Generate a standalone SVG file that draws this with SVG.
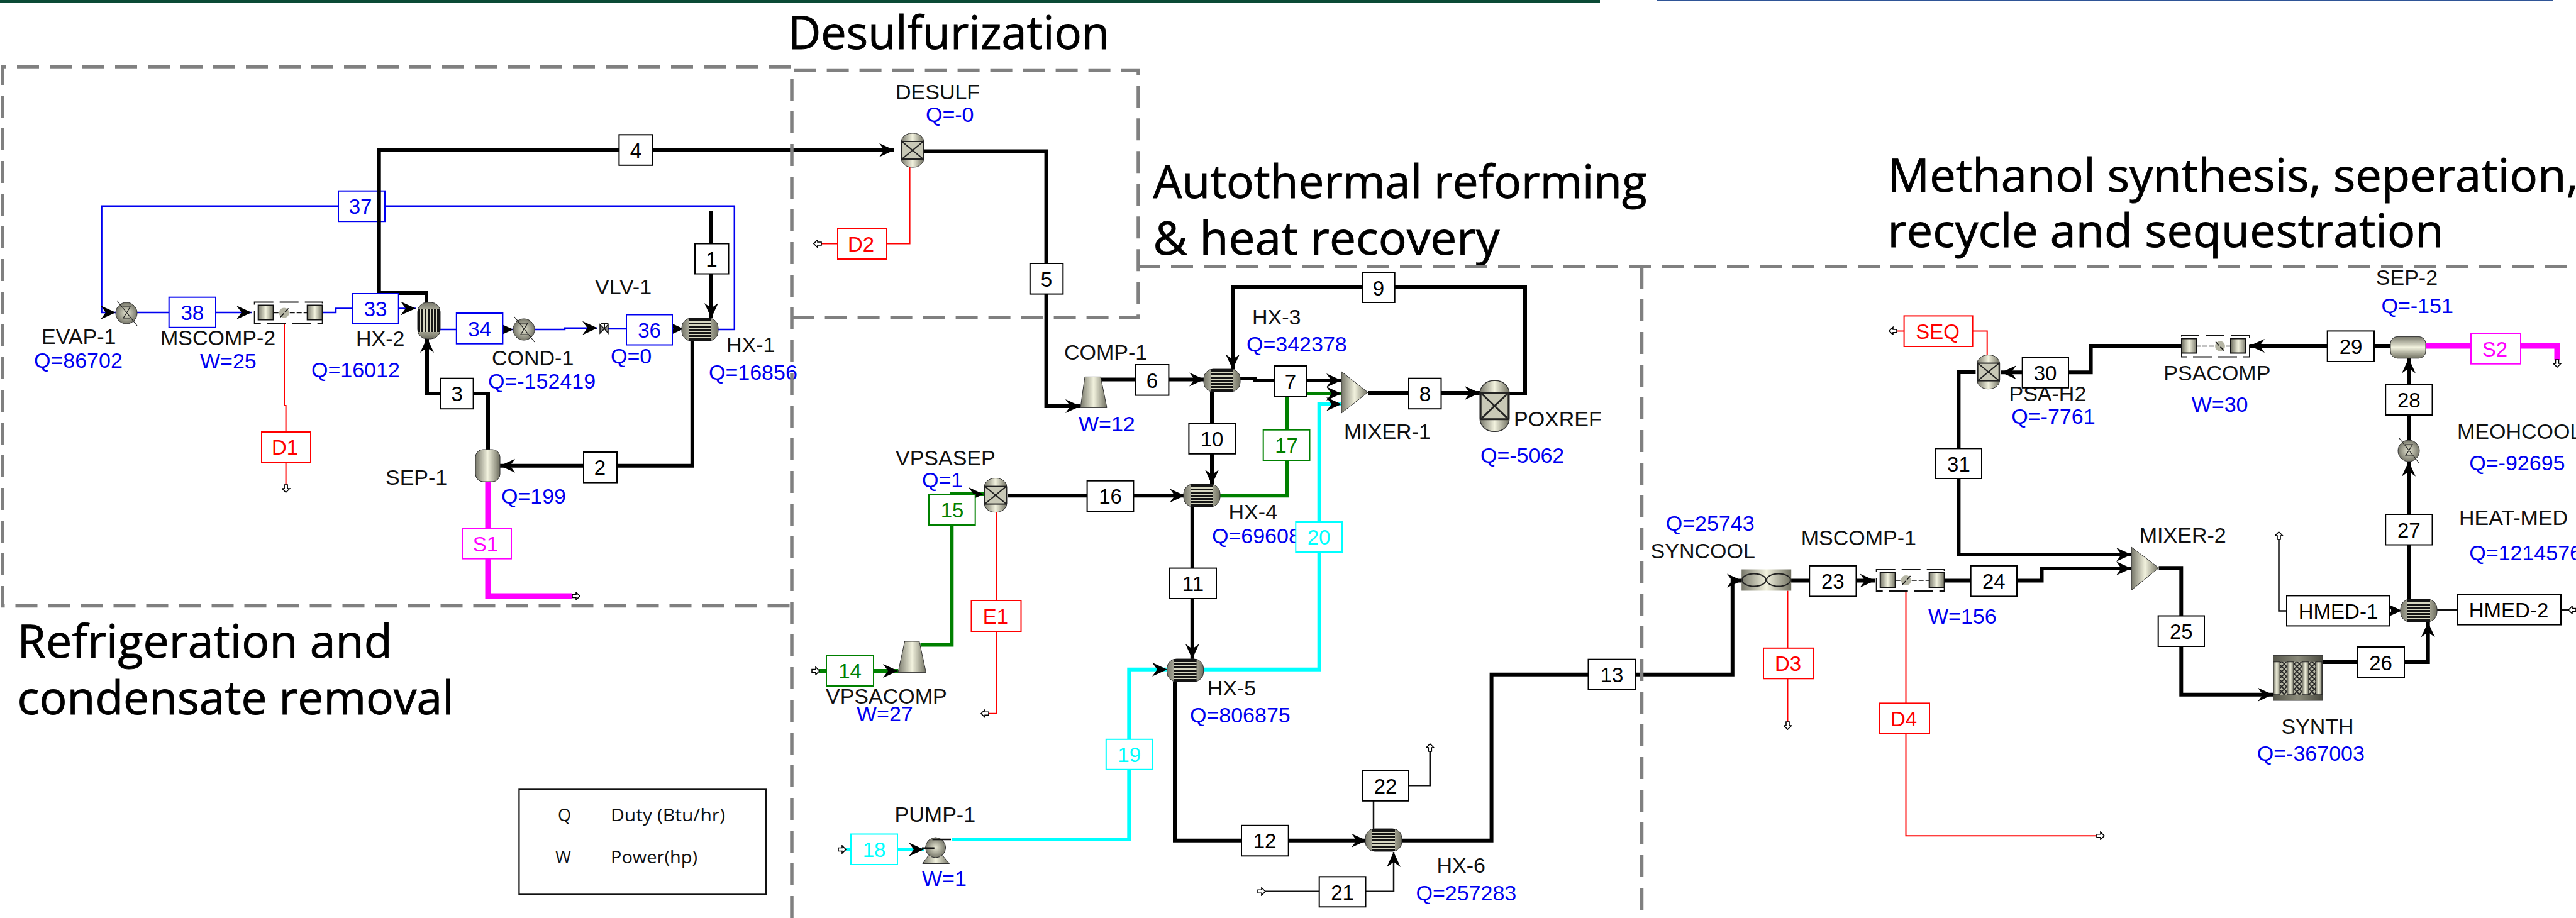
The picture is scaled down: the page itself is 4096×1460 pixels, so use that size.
<svg xmlns="http://www.w3.org/2000/svg" width="4096" height="1460" viewBox="0 0 4096 1460">
<style>
text{font-family:"Liberation Sans",Arial,sans-serif}
.lb{font-size:34px;fill:#111}
.q{font-size:34px;fill:#0000f0}
.title{font-family:"Open Sans","Noto Sans",sans-serif;font-size:74px;fill:#000;stroke:#000;stroke-width:.9}
.leg{font-family:"Open Sans","Noto Sans",sans-serif;font-size:27px;fill:#111}
.st{fill:none;stroke-linejoin:miter}
.k{stroke:#000;stroke-width:6}
.kt{stroke:#111;stroke-width:2.5}
.b{stroke:#0000f0;stroke-width:2.5}
.r{stroke:#ff0000;stroke-width:2}
.g{stroke:#008000;stroke-width:6}
.c{stroke:#00ffff;stroke-width:6}
.m{stroke:#ff00ff;stroke-width:9}
.tag rect{fill:#fff;stroke-width:2}
.tag text{text-anchor:middle;font-size:33px}
.tk rect{stroke:#000}.tk text{fill:#000}
.tb rect{stroke:#0000f0}.tb text{fill:#0000f0}
.tr rect{stroke:#ff0000}.tr text{fill:#ff0000}
.tg rect{stroke:#008000}.tg text{fill:#008000}
.tc rect{stroke:#00ffff}.tc text{fill:#00ffff}
.tm rect{stroke:#ff00ff}.tm text{fill:#ff00ff}
.reg{fill:none;stroke:#808080;stroke-width:5.5;stroke-dasharray:35 17}
.ic{stroke:#333;stroke-width:1}
</style>
<defs>
<linearGradient id="mV" x1="0" y1="0" x2="1" y2="0"><stop offset="0" stop-color="#77776a"/><stop offset=".5" stop-color="#f2f2de"/><stop offset="1" stop-color="#6f6f60"/></linearGradient>
<linearGradient id="mH" x1="0" y1="0" x2="0" y2="1"><stop offset="0" stop-color="#77776a"/><stop offset=".5" stop-color="#f2f2de"/><stop offset="1" stop-color="#6f6f60"/></linearGradient>
<linearGradient id="mD" x1="0" y1="0" x2="1" y2="0"><stop offset="0" stop-color="#55554a"/><stop offset=".5" stop-color="#8a8a7a"/><stop offset="1" stop-color="#4a4a40"/></linearGradient>
<radialGradient id="mR"><stop offset="0" stop-color="#e6e6d2"/><stop offset="1" stop-color="#77776a"/></radialGradient>
<pattern id="hatch" width="8" height="8" patternUnits="userSpaceOnUse"><rect width="8" height="8" fill="#b5b5a4"/><path d="M0 0L8 8M8 0L0 8" stroke="#222" stroke-width="1.6"/></pattern>
<marker id="ah" viewBox="0 0 24 24" refX="24" refY="12" markerWidth="24" markerHeight="24" markerUnits="userSpaceOnUse" orient="auto"><path d="M0 1L24 12L0 23L8 12Z" fill="#000"/></marker>
<marker id="tip" viewBox="0 0 14 14" refX="1" refY="7" markerWidth="14" markerHeight="14" markerUnits="userSpaceOnUse" orient="auto"><path d="M1 4.5H7V1L13 7L7 13V9.5H1Z" fill="#fff" stroke="#000" stroke-width="1.6"/></marker>
<marker id="tipS" viewBox="0 0 14 14" refX="13" refY="7" markerWidth="14" markerHeight="14" markerUnits="userSpaceOnUse" orient="auto"><path d="M1 4.5H7V1L13 7L7 13V9.5H1Z" fill="#fff" stroke="#000" stroke-width="1.6"/></marker>
<g id="hx"><rect x="-29" y="-18" width="58" height="36" rx="15" fill="url(#mV)" class="ic"/><rect x="-18" y="-18" width="36" height="36" fill="#151515"/><path d="M-18 -12H18M-18 -7H18M-18 -2H18M-18 3H18M-18 8H18M-18 13H18" stroke="#d8d8c2" stroke-width="2"/></g>
<g id="rx"><rect x="-18" y="-27" width="36" height="54" rx="17" ry="14" fill="url(#mV)" class="ic"/><rect x="-17" y="-14" width="34" height="28" fill="#c8c8b6" stroke="#222" stroke-width="2"/><path d="M-17 -14L17 14M17 -14L-17 14" stroke="#222" stroke-width="2"/></g>
<g id="heater"><circle r="17" fill="url(#mR)" class="ic"/><path d="M-6 -10H6L-5 8H6M-15 -20L17 20" fill="none" stroke="#222" stroke-width="1.2"/></g>
<g id="mscomp"><rect x="-54" y="-17" width="108" height="34" fill="none" stroke="#111" stroke-width="2" stroke-dasharray="30 10"/><rect x="-48" y="-12" width="24" height="23" fill="url(#mV)" stroke="#111" stroke-width="2"/><rect x="30" y="-12" width="24" height="23" fill="url(#mV)" stroke="#111" stroke-width="2"/><circle cx="-7" cy="0" r="8" fill="#b5b5a4"/><path d="M-13 7L0 -7M-24 0H-15M2 0H30" stroke="#111" stroke-width="1.6" stroke-dasharray="8 3"/></g>
</defs>
<rect width="4096" height="1460" fill="#fff"/>
<rect x="0" y="0" width="2544" height="5" fill="#0b4a35"/>
<rect x="2634" y="0" width="1425" height="1.5" fill="#2f5597"/>
<g id="tag-37" class="tag tb"><rect x="538" y="303.7" width="74" height="48.5"/><text x="573" y="340">37</text></g>
<g id="connectors">
<path id="s1" class="st k" d="M1131 335V506" marker-end="url(#ah)"/>
<path id="s2" class="st k" d="M1100.8 541.5V740.7H795" marker-end="url(#ah)"/>
<path id="s3" class="st k" d="M776 716V626H679V537" marker-end="url(#ah)"/>
<path id="s4" class="st k" d="M678 482.6V466H602.7V238.7H1422" marker-end="url(#ah)"/>
<path id="s5" class="st k" d="M1469 240.6H1663.6V646H1718" marker-end="url(#ah)"/>
<path id="s6" class="st k" d="M1750 603.6H1915" marker-end="url(#ah)"/>
<path id="s7" class="st k" d="M1971 602H1995V605H2133" marker-end="url(#ah)"/>
<path id="s8" class="st k" d="M2175 625H2353" marker-end="url(#ah)"/>
<path id="s9" class="st k" d="M2400 626H2425V456.7H1960V587.6" marker-end="url(#ah)"/>
<path id="s10" class="st k" d="M1927 622.5V771" marker-end="url(#ah)"/>
<path id="s11" class="st k" d="M1895.8 805.7V1048" marker-end="url(#ah)"/>
<path id="s12" class="st k" d="M1868 1083.5V1336.8H2173" marker-end="url(#ah)"/>
<path id="s13" class="st k" d="M2229 1336.8H2371.6V1072.7H2754.8V923.4H2770" marker-end="url(#ah)"/>
<path id="s14" class="st g" d="M1303 1067H1428" marker-start="url(#tipS)" marker-end="url(#ah)"/>
<path id="s15" class="st g" d="M1463.5 1025.6H1513.3V786H1564" marker-end="url(#ah)"/>
<path id="s16" class="st k" d="M1602 788.3H1884" marker-end="url(#ah)"/>
<path id="s17" class="st g" d="M1939 788.3H2046V626H2133" marker-end="url(#ah)"/>
<path id="s18" class="st c" d="M1345 1351H1469" marker-start="url(#tipS)" marker-end="url(#ah)"/>
<path id="s19" class="st c" d="M1513.3 1335H1795.3V1064.7H1856" marker-end="url(#ah)"/>
<path id="s20" class="st c" d="M1912.6 1064.7H2097.7V642.7H2133" marker-end="url(#ah)"/>
<path id="s21" class="st kt" d="M2012 1417.8H2216V1355" marker-start="url(#tipS)" marker-end="url(#ah)"/>
<path id="s22" class="st kt" d="M2184 1318.5V1249.3H2273.8V1195" marker-end="url(#tip)"/>
<path id="s23" class="st k" d="M2847 923.4H2981.4" marker-end="url(#ah)"/>
<path id="s24" class="st k" d="M3092 923.4H3246.5V904H3389" marker-end="url(#ah)"/>
<path id="s25" class="st k" d="M3432.6 903.2H3468.3V1104.7H3614" marker-end="url(#ah)"/>
<path id="s26" class="st k" d="M3693 1053H3860.7V989.4" marker-end="url(#ah)"/>
<path id="s27" class="st k" d="M3830 952.6V733.7" marker-end="url(#ah)"/>
<path id="s28" class="st k" d="M3830 701.6V569.8" marker-end="url(#ah)"/>
<path id="s29" class="st k" d="M3801 550H3577" marker-end="url(#ah)"/>
<path id="s30" class="st k" d="M3468 550H3324.6V592.3H3182" marker-end="url(#ah)"/>
<path id="s31" class="st k" d="M3141.4 592H3114.4V882H3389" marker-end="url(#ah)"/>
<path id="s33" class="st b" d="M513 497H534V490.6H661" marker-end="url(#ah)"/>
<path id="s34" class="st b" d="M700 524H816" marker-end="url(#ah)"/>
<path id="s35" class="st b" d="M850 524H898V521.7H950" marker-end="url(#ah)"/>
<path id="s36" class="st b" d="M967 523H1087" marker-end="url(#ah)"/>
<path id="s37a" class="st b" d="M538 327.7H161.6V497H184" marker-end="url(#ah)"/>
<path id="s37b" class="st b" d="M612 327.7H1167.8V524H1142"/>
<path id="s38" class="st b" d="M218 497H400" marker-end="url(#ah)"/>
<path id="sS1" class="st m" d="M776 766V948H910" marker-end="url(#tip)"/>
<path id="sS2" class="st m" d="M3857 550H4066V572" marker-end="url(#tip)"/>
<path id="sD1" class="st r" d="M452 515.6V645H454.6V771" marker-end="url(#tip)"/>
<path id="sD2" class="st r" d="M1446.6 266V387.5H1306" marker-end="url(#tip)"/>
<path id="sE1" class="st r" d="M1584.5 814.7V1134.8H1572" marker-end="url(#tip)"/>
<path id="sD3" class="st r" d="M2842.5 939.4V1148" marker-end="url(#tip)"/>
<path id="sD4" class="st r" d="M3030.5 940.4V1329.3H3334" marker-end="url(#tip)"/>
<path id="sSEQ" class="st r" d="M3159.7 565V526.4H3016" marker-end="url(#tip)"/>
<path id="sHM1" class="st kt" d="M3636 971.5H3623.5V858" marker-end="url(#tip)"/>
<path id="sHM1b" class="st kt" d="M3802 971H3819" marker-end="url(#ah)"/>
<path id="sHM2" class="st kt" d="M4084 970H3874" marker-start="url(#tipS)"/>
</g>
<g id="EVAP-1"><use href="#heater" x="201" y="498"/><text class="lb" x="66" y="547">EVAP-1</text><text class="q" x="54" y="585">Q=86702</text></g>
<g id="MSCOMP-2"><use href="#mscomp" x="458.7" y="497.5"/><text class="lb" x="255" y="548.5">MSCOMP-2</text><text class="q" x="318" y="586">W=25</text></g>
<g id="HX-2"><use href="#hx" transform="translate(682 510) rotate(90)"/><text class="lb" x="566" y="549.5">HX-2</text><text class="q" x="495" y="600">Q=16012</text></g>
<g id="COND-1"><use href="#heater" x="833" y="524"/><text class="lb" x="782" y="580.6">COND-1</text><text class="q" x="776" y="618">Q=-152419</text></g>
<g id="VLV-1"><path d="M954 516V530L961 523ZM967 516V530L961 523Z" fill="#888" stroke="#111" stroke-width="1.5"/><path d="M961 523V514M955 514H967" stroke="#111" stroke-width="2"/><text class="lb" x="946" y="467.6">VLV-1</text><text class="q" x="971" y="578">Q=0</text></g>
<g id="HX-1"><use href="#hx" x="1113" y="524"/><text class="lb" x="1155" y="560">HX-1</text><text class="q" x="1127" y="604">Q=16856</text></g>
<g id="SEP-1"><rect x="756" y="715" width="39" height="51" rx="12" fill="url(#mV)" class="ic"/><text class="lb" x="613" y="771.3">SEP-1</text><text class="q" x="797" y="801">Q=199</text></g>
<g id="DESULF"><use href="#rx" x="1451" y="239"/><text class="lb" x="1424" y="157.7">DESULF</text><text class="q" x="1472" y="194">Q=-0</text></g>
<g id="COMP-1"><polygon points="1725,599.4 1750,599.4 1760,648.4 1718,648.4" fill="url(#mV)" class="ic"/><text class="lb" x="1692" y="572">COMP-1</text><text class="q" x="1715" y="686">W=12</text></g>
<g id="HX-3"><use href="#hx" x="1943" y="605"/><text class="lb" x="1991" y="515.6">HX-3</text><text class="q" x="1982" y="559">Q=342378</text></g>
<g id="MIXER-1"><polygon points="2133,591 2175,624 2133,657" fill="url(#mV)" class="ic"/><text class="lb" x="2137" y="698">MIXER-1</text></g>
<g id="POXREF"><use href="#rx" transform="translate(2376.5 645.7) scale(1.3 1.5)"/><text class="lb" x="2407" y="678">POXREF</text><text class="q" x="2354" y="735.5">Q=-5062</text></g>
<g id="VPSASEP"><use href="#rx" x="1583" y="787.6"/><text class="lb" x="1424" y="739.8">VPSASEP</text><text class="q" x="1466" y="774.6">Q=1</text></g>
<g id="HX-4"><use href="#hx" x="1911" y="788"/><text class="lb" x="1953.6" y="826.4">HX-4</text><text class="q" x="1927" y="864">Q=69608</text></g>
<g id="VPSACOMP"><polygon points="1438.6,1020 1461.7,1020 1472.4,1069.4 1428,1069.4" fill="url(#mV)" class="ic"/><text class="lb" x="1313" y="1118.8">VPSACOMP</text><text class="q" x="1362" y="1147">W=27</text></g>
<g id="HX-5"><use href="#hx" x="1884.6" y="1066"/><text class="lb" x="1919.8" y="1105.7">HX-5</text><text class="q" x="1892" y="1149">Q=806875</text></g>
<g id="PUMP-1"><path d="M1476 1361L1467 1373.5H1509.5L1499 1361Z" fill="url(#mV)" class="ic"/><circle cx="1487.6" cy="1348" r="16" fill="url(#mR)" class="ic"/><path d="M1482.6 1335H1512M1466 1348.7H1485.7" stroke="#111" stroke-width="2.5"/><text class="lb" x="1422.6" y="1307.2">PUMP-1</text><text class="q" x="1466" y="1409">W=1</text></g>
<g id="HX-6"><use href="#hx" x="2200" y="1336"/><text class="lb" x="2284.5" y="1388.2">HX-6</text><text class="q" x="2251.5" y="1432">Q=257283</text></g>
<g id="SYNCOOL"><rect x="2769.2" y="905.5" width="79" height="34" fill="url(#mV)"/><ellipse cx="2789" cy="922.5" rx="19" ry="10" fill="none" stroke="#222" stroke-width="2"/><ellipse cx="2828" cy="922.5" rx="19" ry="10" fill="none" stroke="#222" stroke-width="2"/><text class="lb" x="2624.6" y="888">SYNCOOL</text><text class="q" x="2648.7" y="844.3">Q=25743</text></g>
<g id="MSCOMP-1"><use href="#mscomp" x="3037.7" y="923"/><text class="lb" x="2863.7" y="866.5">MSCOMP-1</text><text class="q" x="3066" y="991.7">W=156</text></g>
<g id="MIXER-2"><polygon points="3389.2,870.2 3432.6,903.2 3389.2,938.5" fill="url(#mV)" class="ic"/><text class="lb" x="3401.8" y="863">MIXER-2</text></g>
<g id="SYNTH"><rect x="3614.6" y="1042.4" width="78.3" height="71.6" fill="url(#mD)" stroke="#333"/><rect x="3625.4" y="1052.8" width="57" height="52" fill="url(#hatch)"/><g fill="url(#mV)" stroke="#222"><rect x="3615" y="1052.8" width="10.4" height="52"/><rect x="3636.7" y="1052.8" width="10.3" height="52"/><rect x="3660.6" y="1052.8" width="10.4" height="52"/><rect x="3682" y="1052.8" width="10" height="52"/></g><text class="lb" x="3627.4" y="1166.9">SYNTH</text><text class="q" x="3588.8" y="1210.2">Q=-367003</text></g>
<g id="HEAT-MED"><use href="#hx" x="3846" y="971"/><text class="lb" x="3910" y="834.9">HEAT-MED</text><text class="q" x="3926.3" y="890.5">Q=1214576</text></g>
<g id="MEOHCOOL"><use href="#heater" x="3830" y="717"/><text class="lb" x="3907" y="697.8">MEOHCOOL</text><text class="q" x="3926.3" y="747.8">Q=-92695</text></g>
<g id="SEP-2"><rect x="3801" y="535.4" width="56" height="34.4" rx="11" fill="url(#mH)" class="ic"/><text class="lb" x="3777.8" y="453.4">SEP-2</text><text class="q" x="3786.5" y="497.7">Q=-151</text></g>
<g id="PSACOMP"><use href="#mscomp" transform="translate(3523 550.5) scale(-1 1)"/><text class="lb" x="3440.3" y="605">PSACOMP</text><text class="q" x="3484.7" y="654.5">W=30</text></g>
<g id="PSA-H2"><use href="#rx" x="3161.7" y="591.6"/><text class="lb" x="3194.5" y="638">PSA-H2</text><text class="q" x="3198.3" y="674.3">Q=-7761</text></g>
<g id="tags">
<g id="tag-1" class="tag tk"><rect x="1105" y="387.5" width="53.5" height="48"/><text x="1131.5" y="424">1</text></g>
<g id="tag-2" class="tag tk"><rect x="928" y="719" width="53" height="48.6"/><text x="954" y="755">2</text></g>
<g id="tag-3" class="tag tk"><rect x="700.6" y="601.7" width="52" height="48.5"/><text x="726.6" y="638">3</text></g>
<g id="tag-4" class="tag tk"><rect x="984.4" y="214.3" width="53.6" height="48.5"/><text x="1011" y="251">4</text></g>
<g id="tag-5" class="tag tk"><rect x="1637.8" y="419" width="52.5" height="48.6"/><text x="1664" y="455.5">5</text></g>
<g id="tag-6" class="tag tk"><rect x="1806" y="580" width="52.4" height="48.6"/><text x="1832" y="616.5">6</text></g>
<g id="tag-7" class="tag tk"><rect x="2026.5" y="582" width="51.5" height="49"/><text x="2052" y="619">7</text></g>
<g id="tag-8" class="tag tk"><rect x="2240" y="601.7" width="51.5" height="48.5"/><text x="2266" y="638">8</text></g>
<g id="tag-9" class="tag tk"><rect x="2166" y="433" width="51.7" height="48"/><text x="2192" y="469.5">9</text></g>
<g id="tag-10" class="tag tk"><rect x="1890.4" y="673" width="73.6" height="48.8"/><text x="1927" y="709.5">10</text></g>
<g id="tag-11" class="tag tk"><rect x="1860" y="903.6" width="74" height="48.4"/><text x="1897" y="940">11</text></g>
<g id="tag-12" class="tag tk"><rect x="1974" y="1312.8" width="74.7" height="48.5"/><text x="2011" y="1349">12</text></g>
<g id="tag-13" class="tag tk"><rect x="2525.5" y="1048.7" width="74.5" height="48.3"/><text x="2563" y="1085">13</text></g>
<g id="tag-14" class="tag tg"><rect x="1314" y="1042.6" width="75" height="48.4"/><text x="1351.5" y="1079">14</text></g>
<g id="tag-15" class="tag tg"><rect x="1477" y="787" width="73.7" height="48"/><text x="1514" y="823">15</text></g>
<g id="tag-16" class="tag tk"><rect x="1728.6" y="764.7" width="73.8" height="48.6"/><text x="1765.5" y="801">16</text></g>
<g id="tag-17" class="tag tg"><rect x="2008.7" y="683.7" width="73.8" height="48.3"/><text x="2045.6" y="720">17</text></g>
<g id="tag-18" class="tag tc"><rect x="1353" y="1326.5" width="74" height="48.5"/><text x="1390" y="1363">18</text></g>
<g id="tag-19" class="tag tc"><rect x="1758.8" y="1175.8" width="73.8" height="48"/><text x="1795.7" y="1212">19</text></g>
<g id="tag-20" class="tag tc"><rect x="2060.3" y="830" width="73.7" height="48"/><text x="2097" y="866">20</text></g>
<g id="tag-21" class="tag tk"><rect x="2097.7" y="1394.3" width="73.8" height="48"/><text x="2134.6" y="1430.5">21</text></g>
<g id="tag-22" class="tag tk"><rect x="2166" y="1225.2" width="74" height="48.6"/><text x="2203" y="1261.5">22</text></g>
<g id="tag-23" class="tag tk"><rect x="2877.2" y="899.9" width="74.3" height="48.5"/><text x="2914.3" y="936">23</text></g>
<g id="tag-24" class="tag tk"><rect x="3133.7" y="899.9" width="73.3" height="48.5"/><text x="3170.3" y="936">24</text></g>
<g id="tag-25" class="tag tk"><rect x="3431.7" y="979.5" width="73.3" height="48.5"/><text x="3468.3" y="1016">25</text></g>
<g id="tag-26" class="tag tk"><rect x="3748" y="1029" width="75" height="48.4"/><text x="3785.5" y="1065.5">26</text></g>
<g id="tag-27" class="tag tk"><rect x="3793.2" y="818" width="74.3" height="48.5"/><text x="3830.3" y="854.5">27</text></g>
<g id="tag-28" class="tag tk"><rect x="3793.2" y="611.7" width="74.3" height="48.3"/><text x="3830.3" y="648">28</text></g>
<g id="tag-29" class="tag tk"><rect x="3700.7" y="526.4" width="74.3" height="48.6"/><text x="3738" y="563">29</text></g>
<g id="tag-30" class="tag tk"><rect x="3215.7" y="568.3" width="73.3" height="48.5"/><text x="3252" y="605">30</text></g>
<g id="tag-31" class="tag tk"><rect x="3077.8" y="713.4" width="73.2" height="47.6"/><text x="3114.4" y="749.5">31</text></g>
<g id="tag-33" class="tag tb"><rect x="560" y="467" width="73.7" height="48"/><text x="597" y="503">33</text></g>
<g id="tag-34" class="tag tb"><rect x="725.8" y="498" width="73.6" height="48.7"/><text x="762.6" y="534.5">34</text></g>
<g id="tag-36" class="tag tb"><rect x="996" y="500.5" width="73" height="48"/><text x="1032.5" y="536.5">36</text></g>
<g id="tag-38" class="tag tb"><rect x="268.7" y="472.7" width="74.3" height="48.1"/><text x="305.8" y="509">38</text></g>
<g id="tag-D1" class="tag tr"><rect x="416" y="687" width="78" height="48"/><text x="453" y="723">D1</text></g>
<g id="tag-D2" class="tag tr"><rect x="1332" y="363.5" width="78" height="48.5"/><text x="1369" y="400">D2</text></g>
<g id="tag-D3" class="tag tr"><rect x="2804" y="1030.8" width="79" height="48.5"/><text x="2843" y="1067">D3</text></g>
<g id="tag-D4" class="tag tr"><rect x="2989" y="1118.4" width="79" height="48.5"/><text x="3027" y="1155">D4</text></g>
<g id="tag-E1" class="tag tr"><rect x="1544.5" y="955" width="79" height="49"/><text x="1583" y="991.5">E1</text></g>
<g id="tag-S1" class="tag tm"><rect x="735" y="840" width="78" height="48.6"/><text x="772" y="876.5">S1</text></g>
<g id="tag-S2" class="tag tm"><rect x="3929" y="530" width="79" height="48.7"/><text x="3967" y="567">S2</text></g>
<g id="tag-SEQ" class="tag tr"><rect x="3027.6" y="502.4" width="109" height="48.6"/><text x="3081" y="539">SEQ</text></g>
<g id="tag-HMED-1" class="tag tk"><rect x="3636" y="947.4" width="164" height="48"/><text x="3718" y="984">HMED-1</text></g>
<g id="tag-HMED-2" class="tag tk"><rect x="3907" y="945" width="165" height="48.6"/><text x="3989" y="981.5">HMED-2</text></g>
</g>
<g id="titles">
<text class="title" x="1253" y="78" textLength="511" lengthAdjust="spacingAndGlyphs">Desulfurization</text>
<text class="title" x="1833.5" y="315" textLength="785" lengthAdjust="spacingAndGlyphs">Autothermal reforming</text>
<text class="title" x="1833.5" y="405" textLength="551" lengthAdjust="spacingAndGlyphs">&amp; heat recovery</text>
<text class="title" x="3001.6" y="305" textLength="1098" lengthAdjust="spacingAndGlyphs">Methanol synthesis, seperation,</text>
<text class="title" x="3001.6" y="393" textLength="884" lengthAdjust="spacingAndGlyphs">recycle and sequestration</text>
<text class="title" x="27.6" y="1046" textLength="596" lengthAdjust="spacingAndGlyphs">Refrigeration and</text>
<text class="title" x="27.6" y="1136" textLength="694" lengthAdjust="spacingAndGlyphs">condensate removal</text>
</g>
<g id="legend"><rect x="825.4" y="1255.4" width="392.6" height="167" fill="none" stroke="#111" stroke-width="2.2"/><text class="leg" x="887" y="1306">Q</text><text class="leg" x="971" y="1306" textLength="182" lengthAdjust="spacingAndGlyphs">Duty (Btu/hr)</text><text class="leg" x="883" y="1373">W</text><text class="leg" x="971" y="1373" textLength="138" lengthAdjust="spacingAndGlyphs">Power(hp)</text></g>
<g id="regions">
<path class="reg" d="M1258 106H4V963.5H1258"/>
<path class="reg" d="M1259 1460V111.6H1810V504.8H1259"/>
<path class="reg" d="M1810 423.8H4096"/>
<path class="reg" d="M2610.5 424V1460"/>
</g>
</svg>
